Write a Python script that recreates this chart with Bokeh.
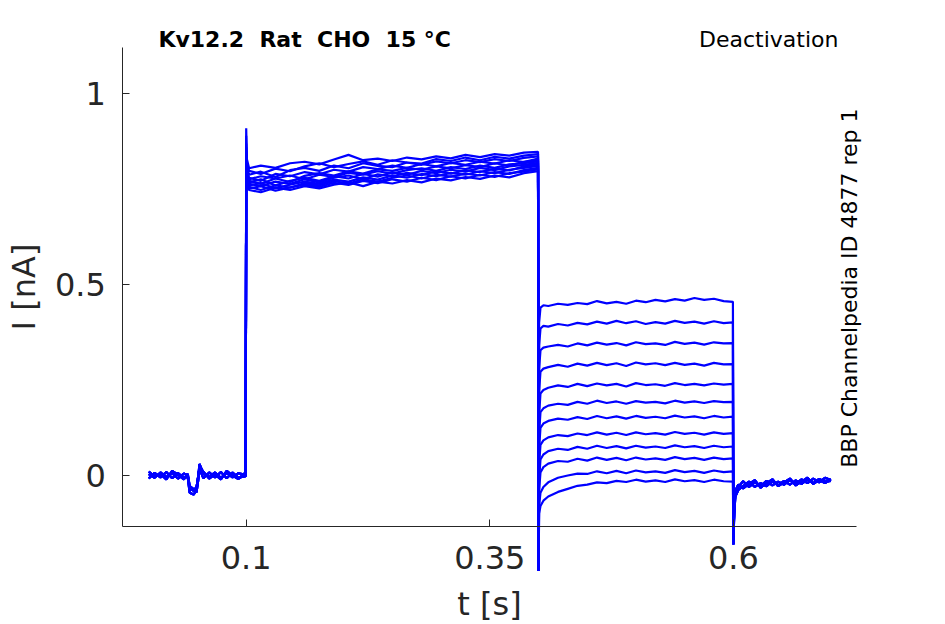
import math
from bokeh.plotting import figure
from bokeh.models import Range1d, FixedTicker, NumeralTickFormatter, Label
from bokeh.embed import file_html
from bokeh.resources import INLINE

# ---------------- data ----------------
# visible axes
AX_X_START, AX_X_END = -0.0266, 0.7262
AX_Y_START, AX_Y_END = -0.1327, 1.1204
# full drawing area (axes are placed inside it so that spikes and texts can pass the axes)
X_START, X_END = -0.15216, 0.81767
Y_START, Y_END = -0.39036, 1.24443
X_TICKS = [0.1, 0.35, 0.6]
Y_TICKS = [0, 0.5, 1]

TITLE = "Kv12.2\u00a0 Rat\u00a0 CHO\u00a0 15 \u00b0C"
SUBTITLE = "Deactivation"
SIDE_TEXT = "BBP Channelpedia ID 4877 rep 1"

# holding period 0 - 0.1 s (three recorded variants, traces overlap)
base_t = [0.000, 0.006, 0.012, 0.018, 0.024, 0.030, 0.036, 0.040, 0.042, 0.046, 0.049,
          0.051, 0.052, 0.056, 0.062, 0.068, 0.074, 0.080, 0.086, 0.092, 0.0995]
base_a = [0.004, -0.006, 0.008, -0.004, 0.006, -0.008, 0.005, 0.000, -0.035, -0.040, -0.030,
          0.000, 0.030, 0.006, -0.004, 0.008, -0.006, 0.007, -0.005, 0.006, 0.002]
base_b = [-0.008, 0.007, -0.005, 0.009, -0.007, 0.006, -0.006, -0.004, -0.045, -0.050, -0.038,
          0.005, 0.018, -0.007, 0.008, -0.005, 0.009, -0.007, 0.008, -0.006, -0.002]
base_c = [0.010, -0.002, 0.004, -0.010, 0.012, 0.002, -0.010, 0.004, -0.028, -0.036, -0.044,
          -0.008, 0.024, 0.010, -0.008, 0.003, -0.010, 0.012, 0.000, -0.009, 0.008]

# activating prepulse 0.1 - 0.4 s (one list per sweep)
pulse_t = [0.1000, 0.1006, 0.103, 0.115, 0.130, 0.145, 0.160, 0.175, 0.190, 0.205, 0.220, 0.235,
           0.250, 0.265, 0.280, 0.295, 0.310, 0.325, 0.340, 0.355, 0.370, 0.385, 0.3995]
pulse_0 = [0.91, 0.83, 0.805, 0.812, 0.806, 0.818, 0.822, 0.815, 0.828, 0.840, 0.826, 0.830,
           0.824, 0.833, 0.828, 0.836, 0.831, 0.840, 0.834, 0.842, 0.838, 0.846, 0.848]
pulse_1 = [0.89, 0.82, 0.798, 0.790, 0.804, 0.797, 0.810, 0.818, 0.808, 0.816, 0.823, 0.814,
           0.826, 0.820, 0.817, 0.829, 0.824, 0.833, 0.826, 0.835, 0.830, 0.838, 0.842]
pulse_2 = [0.87, 0.81, 0.788, 0.796, 0.782, 0.800, 0.806, 0.798, 0.812, 0.805, 0.818, 0.811,
           0.808, 0.820, 0.814, 0.823, 0.818, 0.826, 0.821, 0.829, 0.824, 0.832, 0.836]
pulse_3 = [0.86, 0.80, 0.780, 0.772, 0.790, 0.784, 0.795, 0.789, 0.801, 0.796, 0.808, 0.803,
           0.812, 0.806, 0.816, 0.810, 0.819, 0.814, 0.822, 0.817, 0.826, 0.821, 0.830]
pulse_4 = [0.85, 0.79, 0.776, 0.784, 0.778, 0.769, 0.785, 0.792, 0.786, 0.797, 0.791, 0.802,
           0.798, 0.806, 0.801, 0.810, 0.805, 0.813, 0.808, 0.818, 0.812, 0.822, 0.826]
pulse_5 = [0.84, 0.79, 0.772, 0.764, 0.778, 0.786, 0.776, 0.788, 0.782, 0.793, 0.788, 0.797,
           0.791, 0.800, 0.805, 0.798, 0.808, 0.803, 0.812, 0.806, 0.815, 0.818, 0.823]
pulse_6 = [0.84, 0.78, 0.768, 0.776, 0.760, 0.772, 0.780, 0.772, 0.784, 0.778, 0.790, 0.783,
           0.794, 0.788, 0.798, 0.792, 0.801, 0.796, 0.806, 0.800, 0.810, 0.814, 0.819]
pulse_7 = [0.83, 0.78, 0.764, 0.758, 0.770, 0.764, 0.776, 0.768, 0.780, 0.786, 0.776, 0.789,
           0.784, 0.793, 0.787, 0.797, 0.791, 0.800, 0.795, 0.804, 0.799, 0.810, 0.815]
pulse_8 = [0.83, 0.77, 0.760, 0.766, 0.752, 0.762, 0.770, 0.764, 0.775, 0.770, 0.781, 0.775,
           0.786, 0.780, 0.790, 0.784, 0.793, 0.788, 0.797, 0.792, 0.801, 0.806, 0.811]
pulse_9 = [0.82, 0.77, 0.756, 0.748, 0.760, 0.754, 0.766, 0.760, 0.771, 0.765, 0.776, 0.770,
           0.780, 0.786, 0.778, 0.788, 0.783, 0.791, 0.786, 0.795, 0.790, 0.800, 0.806]
pulse_10 = [0.82, 0.76, 0.752, 0.758, 0.746, 0.755, 0.762, 0.756, 0.767, 0.761, 0.772, 0.766,
            0.776, 0.770, 0.780, 0.774, 0.784, 0.778, 0.788, 0.782, 0.792, 0.796, 0.802]
pulse_11 = [0.81, 0.76, 0.748, 0.742, 0.754, 0.748, 0.758, 0.752, 0.762, 0.768, 0.758, 0.770,
            0.765, 0.774, 0.768, 0.778, 0.773, 0.782, 0.777, 0.786, 0.781, 0.792, 0.797]

# deactivation test step 0.4 - 0.6 s (one list per sweep)
tail_t = [0.4000, 0.4006, 0.402, 0.405, 0.410, 0.420, 0.430, 0.440, 0.450, 0.460, 0.470, 0.480,
          0.490, 0.500, 0.510, 0.520, 0.530, 0.540, 0.550, 0.560, 0.570, 0.580, 0.590, 0.5995]
tail_0 = [-0.25, 0.40, 0.440, 0.446, 0.444, 0.450, 0.447, 0.452, 0.449, 0.457, 0.451, 0.455,
          0.450, 0.458, 0.454, 0.460, 0.456, 0.462, 0.458, 0.465, 0.460, 0.463, 0.457, 0.455]
tail_1 = [-0.25, 0.34, 0.385, 0.392, 0.390, 0.397, 0.393, 0.400, 0.396, 0.403, 0.398, 0.405,
          0.399, 0.404, 0.397, 0.402, 0.398, 0.405, 0.400, 0.403, 0.398, 0.404, 0.399, 0.401]
tail_2 = [-0.25, 0.28, 0.328, 0.335, 0.338, 0.342, 0.338, 0.346, 0.341, 0.348, 0.343, 0.347,
          0.341, 0.349, 0.344, 0.346, 0.342, 0.350, 0.345, 0.348, 0.343, 0.349, 0.346, 0.347]
tail_3 = [-0.25, 0.22, 0.272, 0.280, 0.284, 0.290, 0.285, 0.293, 0.288, 0.295, 0.289, 0.294,
          0.287, 0.296, 0.291, 0.294, 0.289, 0.295, 0.290, 0.293, 0.288, 0.295, 0.291, 0.292]
tail_4 = [-0.25, 0.16, 0.215, 0.224, 0.230, 0.236, 0.232, 0.240, 0.234, 0.241, 0.236, 0.240,
          0.233, 0.242, 0.237, 0.239, 0.235, 0.242, 0.237, 0.240, 0.236, 0.241, 0.238, 0.240]
tail_5 = [-0.25, 0.11, 0.166, 0.176, 0.183, 0.188, 0.185, 0.193, 0.188, 0.196, 0.190, 0.194,
          0.188, 0.195, 0.191, 0.193, 0.189, 0.196, 0.191, 0.194, 0.190, 0.195, 0.192, 0.193]
tail_6 = [-0.25, 0.07, 0.125, 0.136, 0.143, 0.149, 0.146, 0.153, 0.148, 0.156, 0.150, 0.155,
          0.149, 0.156, 0.151, 0.154, 0.150, 0.157, 0.152, 0.155, 0.150, 0.156, 0.152, 0.154]
tail_7 = [-0.25, 0.03, 0.080, 0.092, 0.100, 0.106, 0.103, 0.110, 0.106, 0.113, 0.107, 0.112,
          0.106, 0.113, 0.108, 0.111, 0.107, 0.114, 0.109, 0.112, 0.107, 0.113, 0.109, 0.111]
tail_8 = [-0.25, -0.01, 0.042, 0.055, 0.064, 0.070, 0.067, 0.075, 0.070, 0.078, 0.072, 0.077,
          0.071, 0.078, 0.073, 0.076, 0.072, 0.079, 0.074, 0.077, 0.072, 0.078, 0.074, 0.076]
tail_9 = [-0.25, -0.04, 0.008, 0.022, 0.031, 0.038, 0.036, 0.044, 0.039, 0.047, 0.041, 0.046,
          0.040, 0.047, 0.042, 0.045, 0.041, 0.048, 0.043, 0.046, 0.041, 0.047, 0.043, 0.045]
tail_10 = [-0.25, -0.08, -0.045, -0.030, -0.018, -0.006, 0.000, 0.005, 0.004, 0.011, 0.006, 0.012,
           0.006, 0.013, 0.008, 0.011, 0.007, 0.014, 0.009, 0.012, 0.007, 0.013, 0.009, 0.011]
tail_11 = [-0.25, -0.10, -0.080, -0.066, -0.055, -0.043, -0.035, -0.027, -0.024, -0.018, -0.020, -0.014,
           -0.017, -0.011, -0.016, -0.013, -0.017, -0.010, -0.015, -0.012, -0.017, -0.011, -0.015, -0.016]

# return to holding 0.6 - 0.7 s (three recorded variants, traces overlap)
post_t = [0.6000, 0.6008, 0.602, 0.605, 0.610, 0.616, 0.622, 0.628, 0.634, 0.640,
          0.646, 0.652, 0.658, 0.664, 0.670, 0.676, 0.682, 0.688, 0.694, 0.700]
post_a = [-0.18, -0.09, -0.045, -0.030, -0.015, -0.030, -0.018, -0.028, -0.014, -0.026,
          -0.016, -0.024, -0.012, -0.022, -0.010, -0.020, -0.008, -0.018, -0.006, -0.012]
post_b = [-0.18, -0.10, -0.055, -0.038, -0.028, -0.016, -0.030, -0.020, -0.028, -0.015,
          -0.026, -0.014, -0.024, -0.013, -0.022, -0.010, -0.020, -0.009, -0.016, -0.014]
post_c = [-0.18, -0.08, -0.040, -0.024, -0.034, -0.022, -0.012, -0.032, -0.020, -0.010,
          -0.028, -0.018, -0.008, -0.026, -0.016, -0.006, -0.022, -0.012, -0.020, -0.010]

base_sets = [base_a, base_b, base_c]
post_sets = [post_a, post_b, post_c]
pulse_sets = [pulse_0, pulse_1, pulse_2, pulse_3, pulse_4, pulse_5,
              pulse_6, pulse_7, pulse_8, pulse_9, pulse_10, pulse_11]
tail_sets = [tail_0, tail_1, tail_2, tail_3, tail_4, tail_5,
             tail_6, tail_7, tail_8, tail_9, tail_10, tail_11]

# ---------------- build sweeps ----------------
xs, ys = [], []
for i in range(len(pulse_sets)):
    tx, ty = [], []
    for tt, vv in ((base_t, base_sets[i % 3]), (pulse_t, pulse_sets[i]),
                   (tail_t, tail_sets[i]), (post_t, post_sets[i % 3])):
        for a, b in zip(tt, vv):
            tx.append(a)
            ty.append(b)
    xs.append(tx)
    ys.append(ty)

# ---------------- figure ----------------
FONT = "DejaVu Sans"
AX_COLOR = "#262626"

p = figure(width=945, height=624, output_backend="svg", toolbar_location=None,
           x_range=Range1d(X_START, X_END), y_range=Range1d(Y_START, Y_END),
           min_border_left=0, min_border_right=0, min_border_top=0, min_border_bottom=0)
p.outline_line_color = None
p.background_fill_color = "white"
p.border_fill_color = "white"
p.xgrid.visible = False
p.ygrid.visible = False

p.multi_line(xs, ys, line_color="#0000ff", line_width=2.2)

for ax in (p.xaxis[0], p.yaxis[0]):
    ax.axis_line_color = AX_COLOR
    ax.axis_line_width = 1
    ax.major_tick_line_color = AX_COLOR
    ax.major_tick_in = 7
    ax.major_tick_out = 0
    ax.minor_tick_line_color = None
    ax.major_label_text_font = FONT
    ax.major_label_text_font_size = "32px"
    ax.major_label_text_color = AX_COLOR
    ax.axis_label_text_font = FONT
    ax.axis_label_text_font_size = "32px"
    ax.axis_label_text_font_style = "normal"
    ax.axis_label_text_color = AX_COLOR
    ax.formatter = NumeralTickFormatter(format="0.[00]")

p.xaxis.ticker = FixedTicker(ticks=X_TICKS)
p.yaxis.ticker = FixedTicker(ticks=Y_TICKS)
p.xaxis.axis_label = "t [s]"
p.yaxis.axis_label = "I [nA]"
p.xaxis.fixed_location = AX_Y_START
p.yaxis.fixed_location = AX_X_START
p.xaxis.bounds = (AX_X_START, AX_X_END)
p.yaxis.bounds = (AX_Y_START, AX_Y_END)
p.xaxis.major_label_standoff = 20
p.xaxis.axis_label_standoff = 12
p.yaxis.major_label_standoff = 17
p.yaxis.axis_label_standoff = 9

p.add_layout(Label(x=0.0099, y=1.1427, text=TITLE, text_font=FONT, text_font_size="22px",
                   text_font_style="bold", text_color="black", text_align="left",
                   text_baseline="alphabetic"))
p.add_layout(Label(x=0.7078, y=1.1427, text=SUBTITLE, text_font=FONT, text_font_size="22px",
                   text_color="black", text_align="right", text_baseline="alphabetic"))
p.add_layout(Label(x=0.7189, y=0.491, text=SIDE_TEXT, text_font=FONT, text_font_size="22px",
                   text_color="black", text_align="center", text_baseline="alphabetic",
                   angle=math.pi / 2))

open("out.html", "w").write(file_html(p, INLINE))
